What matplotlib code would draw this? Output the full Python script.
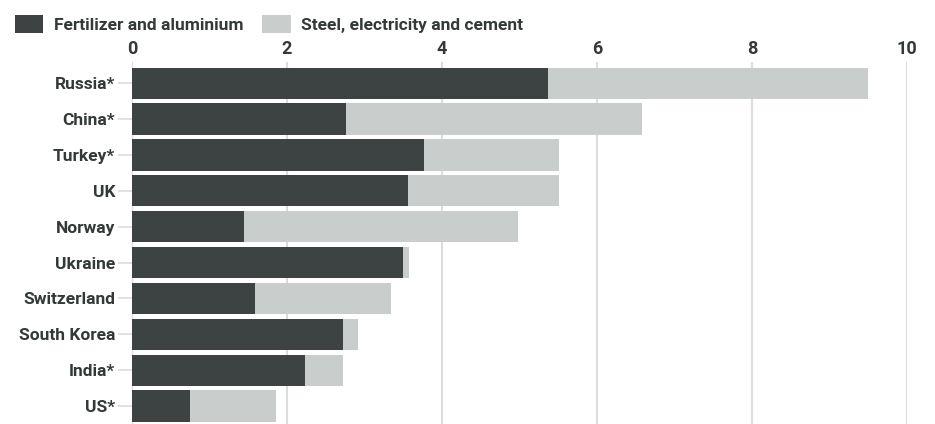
import matplotlib
matplotlib.use("Agg")
import matplotlib.pyplot as plt
from matplotlib.patches import Patch

countries = ["Russia*", "China*", "Turkey*", "UK", "Norway", "Ukraine",
             "Switzerland", "South Korea", "India*", "US*"]
fert_alu = [5.37, 2.76, 3.77, 3.56, 1.45, 3.50, 1.59, 2.72, 2.23, 0.75]
totals = [9.50, 6.58, 5.51, 5.51, 4.98, 3.57, 3.34, 2.92, 2.72, 1.86]
steel_elec_cement = [round(t - f, 2) for t, f in zip(totals, fert_alu)]
xticks = [0, 2, 4, 6, 8, 10]
series_names = ["Fertilizer and aluminium", "Steel, electricity and cement"]

dark = "#3d4343"
light = "#c9cecd"
grid = "#dcdcdc"
txt = "#333838"

plt.rcParams["font.family"] = ["Roboto", "DejaVu Sans"]

fig = plt.figure(figsize=(9.35, 4.24), dpi=100)
ax = fig.add_axes([132 / 935, 0, 775 / 935, 362 / 424])

y = list(range(len(countries)))
ax.barh(y, fert_alu, height=0.87, color=dark, zorder=3)
ax.barh(y, steel_elec_cement, left=fert_alu, height=0.87, color=light, zorder=3)

ax.set_xlim(0, 10)
ax.set_ylim(9.5, -0.59)
ax.set_xticks(xticks)
ax.set_xticklabels([str(t) for t in xticks])
ax.xaxis.tick_top()
ax.tick_params(axis="x", length=0, pad=3, labelsize=13, labelcolor=txt)
ax.set_yticks(y)
ax.set_yticklabels(countries)
ax.tick_params(axis="y", length=10, width=1.2, color=grid, pad=2,
               labelsize=12.5, labelcolor=txt)
for lbl in ax.get_xticklabels() + ax.get_yticklabels():
    lbl.set_fontweight("bold")
ax.grid(axis="x", color=grid, linewidth=1.5, zorder=0)
for s in ax.spines.values():
    s.set_visible(False)

handles = [Patch(facecolor=dark), Patch(facecolor=light)]
fig.legend(handles, series_names, loc="upper left", bbox_to_anchor=(0.0, 1.0),
           ncol=2, frameon=False, handlelength=1.65, handleheight=1.2,
           handletextpad=0.6, columnspacing=1.1, borderaxespad=0.45,
           prop={"size": 12.5, "weight": "bold"}, labelcolor=txt)

fig.savefig("out.png", dpi=100)
